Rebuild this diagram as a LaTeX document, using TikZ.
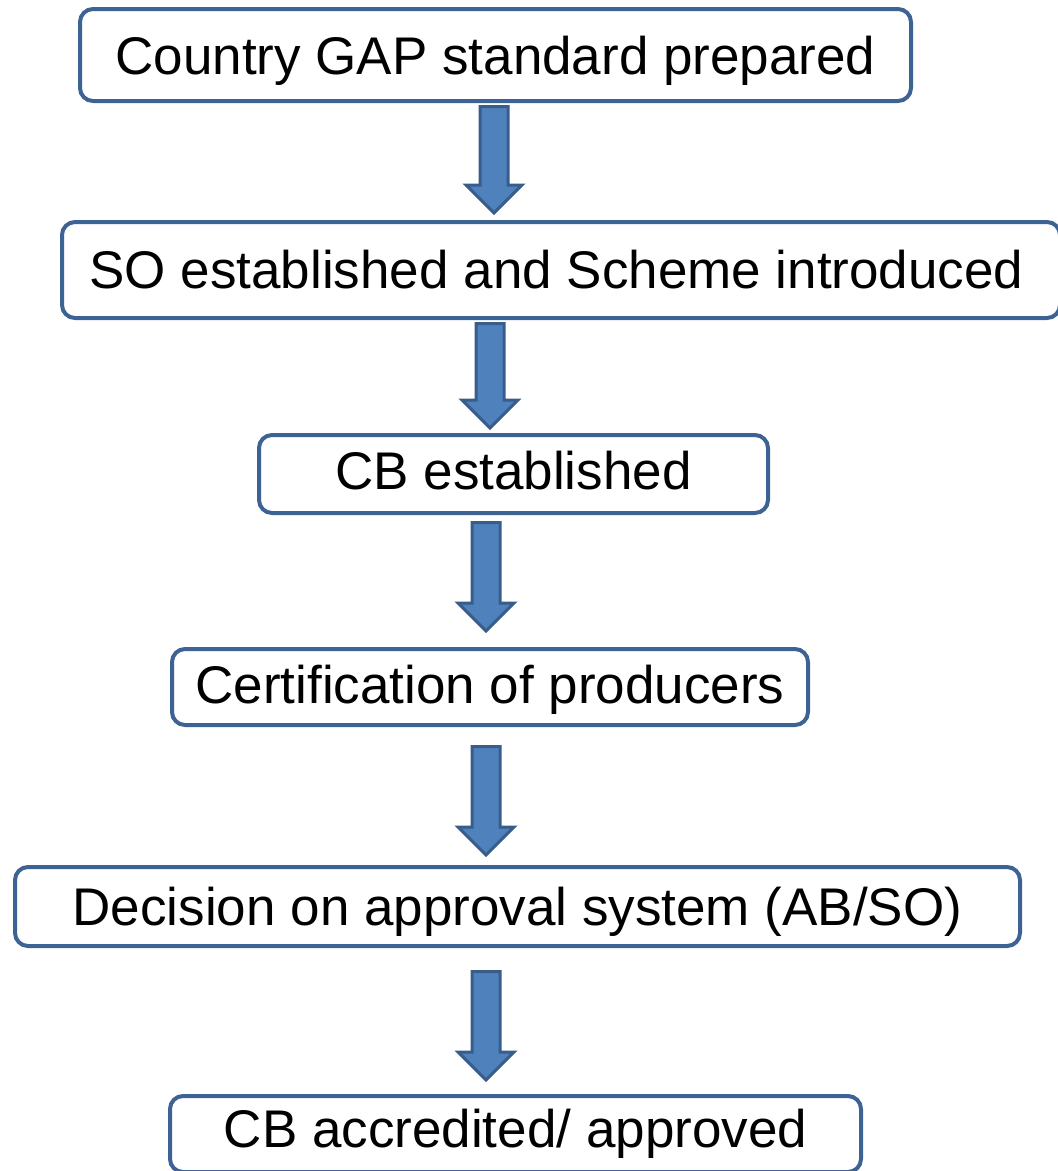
\documentclass[tikz,border=0pt]{standalone}
\usepackage{fontspec}
\setmainfont{Liberation Sans}
\usetikzlibrary{calc}
\definecolor{boxline}{HTML}{3D6394}
\definecolor{arrowfill}{HTML}{4F81BD}
\definecolor{arrowline}{HTML}{385D8A}
\newcommand{\nudge}[2]{\raisebox{#1}[\height][\depth]{#2}}

\begin{document}
\begin{tikzpicture}[x=1pt,y=-1pt,
  stage/.style={draw=boxline,line width=4pt,rounded corners=13pt,fill=white,
    inner sep=0pt,font=\fontsize{53}{60}\selectfont},
  flow/.style={draw=arrowline,fill=arrowfill,line width=3pt,line join=miter}]
 \useasboundingbox (0,0) rectangle (1058,1171);
\begin{scope}
 \clip (0,0) rectangle (1058,1171);
 \node[stage,minimum width=831pt,minimum height=92pt] (prep) at (495.5,55) {\nudge{-6pt}{Country GAP standard prepared}};
 \node[stage,minimum width=998pt,minimum height=96pt] (scheme) at (561,270) {\hspace*{-9pt}SO established and Scheme introduced};
 \node[stage,minimum width=509pt,minimum height=78pt] (cb) at (513.5,474) {\nudge{3pt}{CB established}};
 \node[stage,minimum width=636pt,minimum height=76pt] (cert) at (490,687) {\nudge{-3pt}{Certification of producers}};
 \node[stage,minimum width=1005pt,minimum height=79pt] (decide) at (517.5,906.5) {\nudge{-5pt}{Decision on approval system (AB/SO)}};
 \node[stage,minimum width=691pt,minimum height=76pt] (accred) at (515.5,1134) {CB accredited/ approved};
\end{scope}

 % block arrows between the stages
 \foreach \i/\x/\t/\b in {1/494/106.5/213, 2/490/323.5/428, 3/486/522.5/631,
                          4/486/746.5/855, 5/486/971.5/1080} {
  \coordinate (T\i) at (\x,\t);
  \coordinate (B\i) at (\x,\b);
  \draw[flow] ($(T\i)+(-14,0)$) -- ($(T\i)+(14,0)$)
   -- ($(B\i)+(14,-28)$) -- ($(B\i)+(28,-28)$) -- (B\i)
   -- ($(B\i)+(-28,-28)$) -- ($(B\i)+(-14,-28)$) -- cycle;
 }
\end{tikzpicture}
\end{document}
